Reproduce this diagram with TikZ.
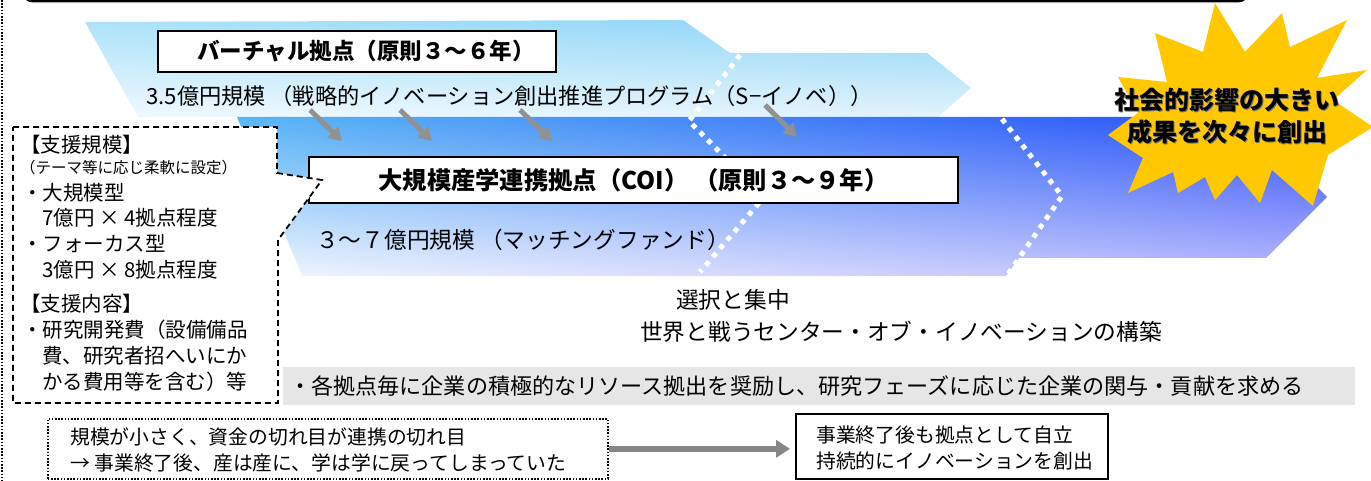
\documentclass[tikz,border=0pt]{standalone}
\usepackage{fontspec}
\setmainfont{Noto Sans CJK JP}
\usetikzlibrary{arrows.meta,shadings}
\definecolor{ubUL}{RGB}{172,226,250}
\definecolor{ubUR}{RGB}{140,212,246}
\definecolor{ubLL}{RGB}{240,249,254}
\definecolor{ubLR}{RGB}{226,243,252}
\definecolor{lbUL}{RGB}{88,182,245}
\definecolor{lbUR}{RGB}{42,74,250}
\definecolor{lbLL}{RGB}{242,247,254}
\definecolor{lbLR}{RGB}{185,185,252}
\definecolor{arrowgray}{RGB}{145,145,145}
\definecolor{bannergray}{RGB}{230,230,230}
\definecolor{staryellow}{RGB}{255,200,0}
\tikzset{
  boxframe/.style={draw=black, line width=2pt, fill=white, inner sep=0pt},
  boxtext/.style={inner sep=0pt, font=\bfseries\fontsize{22.5}{26}\selectfont},
  subtext/.style={inner sep=0pt, anchor=west, font=\fontsize{22.2}{26}\selectfont},
  midtext/.style={inner sep=0pt, anchor=west, font=\fontsize{22.7}{26}\selectfont},
  lefttext/.style={inner sep=0pt, anchor=west, font=\fontsize{20.5}{24}\selectfont},
  smalltext/.style={inner sep=0pt, anchor=west, font=\fontsize{15.5}{18}\selectfont},
  bottext/.style={inner sep=0pt, anchor=west, align=left, font=\fontsize{19.8}{26}\selectfont},
  grayarrow/.style={draw=arrowgray, line width=5pt, -{Triangle[width=15pt,length=13pt]}},
  widearrow/.style={draw=arrowgray!110, line width=6pt, -{Triangle[width=17pt,length=14pt]}},
  whitedots/.style={draw=white, line width=5pt, dash pattern=on 5pt off 6pt},
  calloutline/.style={draw=black, line width=1.8pt, dash pattern=on 6pt off 4pt, fill=white},
  startext/.style={inner sep=0pt, font=\bfseries\fontsize{25}{30}\selectfont}
}
\begin{document}
\begin{tikzpicture}[x=1pt,y=-1pt]
\useasboundingbox (0,0) rectangle (1371,481);
% top frame edge and left dotted rule
\draw[line width=3pt, rounded corners=10pt] (23,-30) rectangle (1248,1);
\draw[line width=2pt, dash pattern=on 1.6pt off 1.6pt] (2,0) -- (2,481);
% upper band (virtual)
\shade[upper left=ubUL, upper right=ubUR, lower left=ubLL, lower right=ubLR]
  (85,22) -- (683,20) -- (730,53) -- (927,53) -- (971,88) -- (938,117) -- (138,117) -- cycle;
% lower band (COI)
\shade[upper left=lbUL, upper right=lbUR, lower left=lbLL, lower right=lbLR]
  (237,117) -- (1250,117) -- (1327,197) -- (1266,258) -- (1019,258) -- (1006,276) -- (302,276) -- cycle;
% white dotted dividers
\draw[whitedots] (740,55) -- (689,121) -- (764,197) -- (700,272);
\draw[whitedots] (1002,119) -- (1062,196) -- (1008,274);
% star burst
\fill[staryellow] (1215,3) -- (1245,52) -- (1282,13) -- (1290,47) -- (1347,20) -- (1317,78)
  -- (1367,70) -- (1333,100) -- (1373,127) -- (1328,155) -- (1313,206) -- (1272,170)
  -- (1260,203) -- (1237,175) -- (1215,200) -- (1205,177) -- (1178,193) -- (1173,172)
  -- (1128,193) -- (1143,158) -- (1108,135) -- (1138,113) -- (1118,77) -- (1167,82)
  -- (1155,33) -- (1203,52) -- cycle;
\node[startext, text=black!55] at (1228.3,101.3) {社会的影響の大きい};
\node[startext] (star1) at (1227,100) {社会的影響の大きい};
\node[startext, text=black!55] at (1228.3,133.3) {成果を次々に創出};
\node[startext] (star2) at (1227,132) {成果を次々に創出};
% virtual hub
\node[boxframe, minimum width=398pt, minimum height=41pt] (virt) at (357,51.5) {};
\node[boxtext] (virttext) at (366,51.5) {バーチャル拠点（原則３〜６年）};
\node[subtext] (virtsub) at (146,96) {3.5億円規模 （戦略的イノベーション創出推進プログラム（S−イノベ））};
% arrows
\coordinate (a1s) at (310,110); \coordinate (a1e) at (342,141);
\coordinate (a2s) at (400,110); \coordinate (a2e) at (432,141);
\coordinate (a3s) at (520,110); \coordinate (a3e) at (552,141);
\coordinate (a4s) at (765,105); \coordinate (a4e) at (797,137);
\draw[grayarrow] (a1s) -- (a1e);
\draw[grayarrow] (a2s) -- (a2e);
\draw[grayarrow] (a3s) -- (a3e);
\draw[grayarrow] (a4s) -- (a4e);
% COI hub
\node[boxframe, minimum width=649pt, minimum height=46pt] (coi) at (633.5,180) {};
\node[boxtext, font=\bfseries\fontsize{24.3}{28}\selectfont] (coitext) at (633.5,180) {大規模産学連携拠点（COI） （原則３〜９年）};
\node[midtext] (coisub) at (316,240) {３〜７億円規模 （マッチングファンド）};
% callout box
\draw[calloutline] (13,127) -- (277,127) -- (277,173) -- (322,180) -- (278,240) -- (278,403) -- (13,403) -- cycle;
\node[lefttext] (lb1) at (20,145) {【支援規模】};
\node[smalltext] (lb2) at (20,168) {（テーマ等に応じ柔軟に設定）};
\node[lefttext] (lb3) at (22,193) {・大規模型};
\node[lefttext] (lb4) at (42,218) {7億円 × 4拠点程度};
\node[lefttext] (lb5) at (22,244) {・フォーカス型};
\node[lefttext] (lb6) at (42,270) {3億円 × 8拠点程度};
\node[lefttext] (lb7) at (20,304) {【支援内容】};
\node[lefttext] (lb8) at (22,330) {・研究開発費（設備備品};
\node[lefttext] (lb9) at (42,356) {費、研究者招へいにか};
\node[lefttext] (lb10) at (42,382) {かる費用等を含む）等};
% selection text
\node[midtext] (sel1) at (676,300) {選択と集中};
\node[midtext] (sel2) at (640,332) {世界と戦うセンター・オブ・イノベーションの構築};
% banner
\node[fill=bannergray, anchor=north west, minimum width=1072pt, minimum height=38pt, inner sep=0pt,
  text width=1060pt, align=left, font=\fontsize{22.1}{25}\selectfont] (banner) at (283,367)
  {・各拠点毎に企業の積極的なリソース拠出を奨励し、研究フェーズに応じた企業の関与・貢献を求める};
% bottom boxes
\node[draw=black, line width=1.6pt, dash pattern=on 1.6pt off 1.6pt, minimum width=560pt, minimum height=60pt,
  anchor=north west, inner sep=0pt] (old) at (47,418) {};
\node[bottext] (oldtext) at (70,450) {規模が小さく、資金の切れ目が連携の切れ目\\→ 事業終了後、産は産に、学は学に戻ってしまっていた};
\node[draw=black, line width=2pt, minimum width=312pt, minimum height=65pt, anchor=north west, inner sep=0pt] (new) at (795,413) {};
\node[bottext] (newtext) at (816,448) {事業終了後も拠点として自立\\持続的にイノベーションを創出};
\draw[widearrow, shorten >=5pt] (old.east) -- (old.east -| new.west);
\end{tikzpicture}
\end{document}
